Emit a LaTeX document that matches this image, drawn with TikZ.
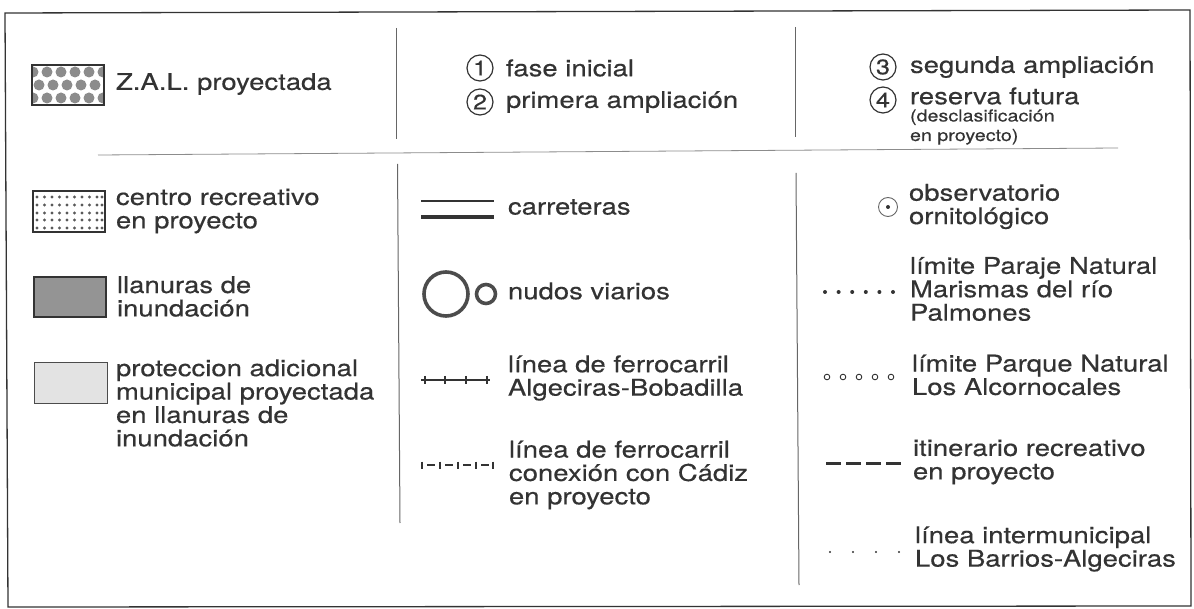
\documentclass[tikz,border=0pt]{standalone}
\usepackage{fontspec}
\setmainfont[FakeStretch=1.195,FakeBold=0.4]{TeX Gyre Heros}
\definecolor{ink}{gray}{0.2}
\definecolor{rulec}{gray}{0.4}
\tikzset{
  lab/.style={anchor=west,inner sep=0pt,outer sep=0pt,align=left,text=ink,font=\fontsize{23}{23.4}\selectfont},
  smalllab/.style={anchor=west,inner sep=0pt,outer sep=0pt,align=left,text=ink,font=\fontsize{16.5}{19.5}\selectfont},
  swatch/.style={draw=black!80,line width=1.1pt},
  num/.style={circle,draw=ink,line width=1.2pt,minimum size=26pt,inner sep=0pt,text=ink,font=\fontsize{21}{21}\selectfont},
  rulev/.style={draw=rulec,line width=1pt},
  ruleh/.style={draw=black!45,line width=0.8pt}
}
\begin{document}
\begin{tikzpicture}[x=1pt,y=-1pt]
\useasboundingbox (0,0) rectangle (1194,609);
% frame
\draw[draw=black!80,line width=1.3pt] (5,13) -- (1190,10) -- (1191,606) -- (8,607) -- cycle;
% rules
\draw[rulev] (396.5,28) -- (396.5,139);
\draw[rulev] (397.5,164) -- (400,523);
\draw[rulev] (795,27) -- (795,137);
\draw[rulev] (796,173) -- (799,585);
\draw[ruleh] (98,155) -- (1118,148);
% ZAL swatch
\begin{scope}
\clip (32,65) rectangle (104,105);
\foreach \x in {33,47,61,75,89,103}{
  \fill[black!45] (\x,72) circle (5.5);
  \fill[black!45] (\x,98) circle (5.5);
}
\foreach \x in {39,53,67,81,95}{
  \fill[black!45] (\x,85) circle (5.5);
}
\end{scope}
\draw[swatch] (32,65) rectangle (104,105);
\node[lab] (zal) at (116,84) {Z.A.L. proyectada};
% centro swatch
\foreach \y in {197,205,213,220,228}{
  \foreach \x in {37,44.5,52,59.5,67,74.5,82,89.5,97,102}{
    \fill[black!65] (\x,\y) circle (1.7);
  }
}
\draw[swatch] (33,191) rectangle (105,232);
\node[lab] (centro) at (116,211) {centro recreativo\\en proyecto};
% llanuras
\draw[swatch,fill=black!42] (34,277) rectangle (106,317);
\node[lab] (llan) at (117,296.5) {llanuras de\\inundación};
% proteccion
\draw[draw=black!70,line width=0.9pt,fill=black!11] (34,362) rectangle (107,403);
\node[lab] (prot) at (116,403) {proteccion adicional\\municipal proyectada\\en llanuras de\\inundación};
% middle top
\node[num] (n1) at (480,68) {1};
\node[num] (n2) at (480,102) {2};
\node[lab] (t1) at (506,68) {fase inicial};
\node[lab] (t2) at (506,102) {primera ampliación};
% right top
\node[num] (n3) at (883,67) {3};
\node[num] (n4) at (883,100) {4};
\node[lab] (t3) at (910,67) {segunda ampliación};
\node[lab] (t4) at (910,96) {reserva futura};
\node[smalllab] (t4b) at (910,127) {(desclasificación\\en proyecto)};
% carreteras
\draw[ink,line width=2.2pt] (421,201) -- (494,201);
\draw[ink,line width=3.6pt] (421,217) -- (494,217);
\node[lab] (carr) at (508,207) {carreteras};
% nudos
\draw[draw=black!70,line width=3.6pt] (446,294) circle (22);
\draw[draw=black!70,line width=3.6pt] (486,294) circle (9.5);
\node[lab] (nud) at (508,291) {nudos viarios};
% ferrocarril 1
\draw[ink,line width=1.3pt] (421,380) -- (490,380);
\foreach \x in {425,445,466,487}{\draw[ink,line width=1.1pt] (\x,376) -- (\x,384);}
\node[lab] (f1) at (508,378) {línea de ferrocarril\\Algeciras-Bobadilla};
% ferrocarril 2
\foreach \x in {422,440,458,476,493}{\draw[ink,line width=1.1pt] (\x,461.5) -- (\x,468.5);}
\foreach \x in {427,445,463,481}{\draw[ink,line width=1.3pt] (\x,465) -- (\x+8,465);}
\node[lab] (f2) at (509,475) {línea de ferrocarril\\conexión con Cádiz\\en proyecto};
% observatorio
\draw[draw=black!60,line width=0.9pt] (888,207) circle (9.5);
\fill[ink] (888,207) circle (2);
\node[lab] (obs) at (909,206.5) {observatorio\\ornitológico};
% paraje
\foreach \x in {825,838.6,852.2,865.8,879.4,893}{\fill[ink] (\x,292) circle (2);}
\node[lab] (par) at (910,289) {límite Paraje Natural\\Marismas del río\\Palmones};
% parque
\foreach \x in {827,843,859,875,891}{\draw[ink,line width=0.9pt] (\x,377) circle (2.8);}
\node[lab] (parq) at (912,375) {límite Parque Natural\\Los Alcornocales};
% itinerario
\foreach \x in {826,846,866,886}{\draw[ink,line width=3pt] (\x,463) -- (\x+15,463);}
\node[lab] (iti) at (913,462) {itinerario recreativo\\en proyecto};
% intermunicipal
\foreach \x in {830,853,876,899}{\fill[ink] (\x,552) circle (1.1);}
\node[lab] (inter) at (915,549) {línea intermunicipal\\Los Barrios-Algeciras};
\end{tikzpicture}
\end{document}
